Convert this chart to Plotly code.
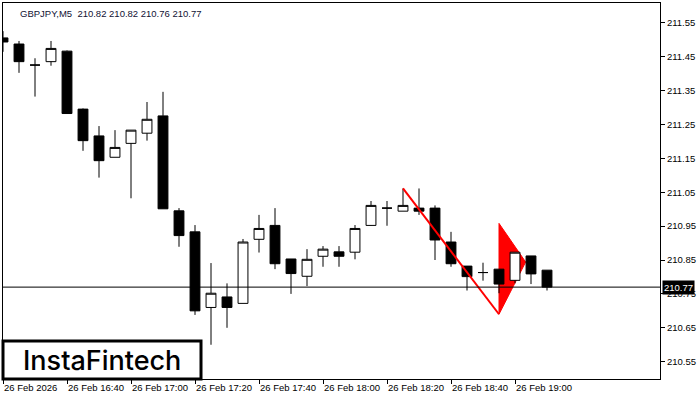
import pandas as pd
import plotly.graph_objects as go

# ---- data ----
start_time = "2026-02-26 16:20:00"
bar_minutes = 5
opens  = [211.505, 211.487, 211.425, 211.435, 211.466, 211.295, 211.216, 211.153, 211.194, 211.224,
          211.275, 210.995, 210.933, 210.710, 210.741, 210.722, 210.911, 210.952, 210.853, 210.802,
          210.861, 210.874, 210.873, 210.952, 211.003, 210.994, 211.003, 211.003, 210.903, 210.832,
          210.813, 210.823, 210.790, 210.862, 210.820]
highs  = [211.525, 211.496, 211.445, 211.496, 211.468, 211.297, 211.245, 211.233, 211.233, 211.316,
          211.346, 211.003, 210.953, 210.841, 210.781, 210.912, 210.983, 211.003, 210.853, 210.882,
          210.891, 210.891, 210.953, 211.024, 211.024, 211.061, 211.061, 211.011, 210.933, 210.832,
          210.842, 210.823, 210.873, 210.862, 210.820]
lows   = [211.464, 211.402, 211.332, 211.423, 211.282, 211.172, 211.093, 211.153, 211.032, 211.202,
          211.001, 210.889, 210.688, 210.600, 210.650, 210.722, 210.872, 210.823, 210.750, 210.773,
          210.830, 210.830, 210.852, 210.951, 210.951, 210.994, 210.983, 210.850, 210.830, 210.760,
          210.789, 210.752, 210.781, 210.779, 210.760]
closes = [211.493, 211.435, 211.425, 211.474, 211.282, 211.202, 211.143, 211.182, 211.233, 211.265,
          211.001, 210.922, 210.700, 210.752, 210.710, 210.903, 210.943, 210.839, 210.810, 210.852,
          210.882, 210.861, 210.943, 211.011, 211.003, 211.011, 210.994, 210.909, 210.839, 210.801,
          210.813, 210.779, 210.873, 210.809, 210.770]

current_price = 210.77
title_text = "GBPJPY,M5  210.82 210.82 210.76 210.77"

# pattern (pennant) points
pole_times = ["2026-02-26 18:25:00", "2026-02-26 18:55:00"]
pole_prices = [211.061, 210.690]
flag_times = ["2026-02-26 18:55:00", "2026-02-26 19:03:20", "2026-02-26 18:55:00"]
flag_prices = [210.958, 210.844, 210.690]

tick_times = ["2026-02-26 16:20:00", "2026-02-26 16:40:00", "2026-02-26 17:00:00", "2026-02-26 17:20:00",
              "2026-02-26 17:40:00", "2026-02-26 18:00:00", "2026-02-26 18:20:00", "2026-02-26 18:40:00",
              "2026-02-26 19:00:00"]
tick_labels = ["26 Feb 2026", "26 Feb 16:40", "26 Feb 17:00", "26 Feb 17:20", "26 Feb 17:40",
               "26 Feb 18:00", "26 Feb 18:20", "26 Feb 18:40", "26 Feb 19:00"]
price_ticks = [211.55, 211.45, 211.35, 211.25, 211.15, 211.05, 210.95, 210.85, 210.75, 210.65, 210.55]

times = pd.date_range(start_time, periods=len(opens), freq=f"{bar_minutes}min")

# ---- figure ----
W, H = 700, 400
ml, mr, mt, mb = 3, 40, 3, 21
plot_w = W - ml - mr
plot_h = H - mt - mb
px_per_bar = 16
x_start = pd.Timestamp(start_time)
x_end = x_start + pd.Timedelta(minutes=bar_minutes * plot_w / px_per_bar)

fig = go.Figure()

# pennant flag as a data-space path shape drawn below the candles
flag_ms = [pd.Timestamp(t).value // 10**6 for t in flag_times]
flag_path = "M " + " L ".join(f"{x},{y}" for x, y in zip(flag_ms, flag_prices)) + " Z"
fig.add_shape(type="path", xref="x", yref="y", path=flag_path, layer="below",
              fillcolor="red", line=dict(color="red", width=1))

fig.add_trace(go.Candlestick(
    x=times, open=opens, high=highs, low=lows, close=closes,
    increasing=dict(line=dict(color="black", width=1), fillcolor="white"),
    decreasing=dict(line=dict(color="black", width=1), fillcolor="black"),
    whiskerwidth=0, showlegend=False, hoverinfo="skip",
))

# pole line (on top)
fig.add_trace(go.Scatter(
    x=pd.to_datetime(pole_times, format="ISO8601"), y=pole_prices, mode="lines",
    line=dict(color="red", width=2), showlegend=False, hoverinfo="skip"))

fig.add_shape(type="line", xref="paper", x0=0, x1=1, yref="y", y0=current_price, y1=current_price,
              line=dict(color="black", width=1))

font_axis = dict(family="Liberation Sans", size=9.5, color="black")

fig.update_layout(
    width=W, height=H,
    margin=dict(l=ml, r=mr, t=mt, b=mb, autoexpand=False),
    paper_bgcolor="white", plot_bgcolor="white",
    boxgap=0.12,
    xaxis=dict(
        type="date", range=[x_start, x_end], rangeslider=dict(visible=False),
        tickvals=pd.to_datetime(tick_times, format="ISO8601"), ticktext=tick_labels,
        ticks="outside", ticklen=4, tickcolor="black", tickwidth=1, tickangle=0,
        ticklabelposition="outside right", automargin=False,
        showgrid=False, zeroline=False, showline=True, linecolor="black", linewidth=1, mirror=True,
        tickfont=font_axis,
    ),
    yaxis=dict(
        side="right", range=[210.499, 211.608], automargin=False,
        tickvals=price_ticks, ticktext=[f"{v:.2f}" for v in price_ticks],
        ticks="outside", ticklen=4, tickcolor="black", tickwidth=1,
        showgrid=False, zeroline=False, showline=True, linecolor="black", linewidth=1, mirror=True,
        tickfont=font_axis,
    ),
    showlegend=False,
)

# title text
fig.add_annotation(xref="paper", yref="paper", x=(18 - ml) / plot_w, y=1, yshift=-3,
                   xanchor="left", yanchor="top", showarrow=False, text=title_text,
                   font=dict(family="Liberation Sans", size=9.5, color="#111133"))

# current price label on axis
fig.add_annotation(xref="paper", yref="y", x=1, y=current_price, xanchor="left", yanchor="middle",
                   xshift=2, showarrow=False, text=f"{current_price:.2f}", bgcolor="black",
                   borderpad=1, font=dict(family="Liberation Sans", size=9.5, color="white"))

# logo box
fig.add_shape(type="rect", xref="paper", yref="paper", x0=0, x1=(201 - ml) / plot_w,
              y0=0, y1=(379 - 341) / plot_h, line=dict(color="black", width=3), fillcolor="white")
fig.add_annotation(xref="paper", yref="paper", x=(102 - ml) / plot_w, y=(379 - 360) / plot_h,
                   xanchor="center", yanchor="middle", showarrow=False, text="InstaFintech",
                   font=dict(family="Inter", size=27, color="black", weight=500))

fig.write_html("out.html", config={"displayModeBar": False},
               post_script="document.body.style.margin='0';document.body.style.padding='0';")
